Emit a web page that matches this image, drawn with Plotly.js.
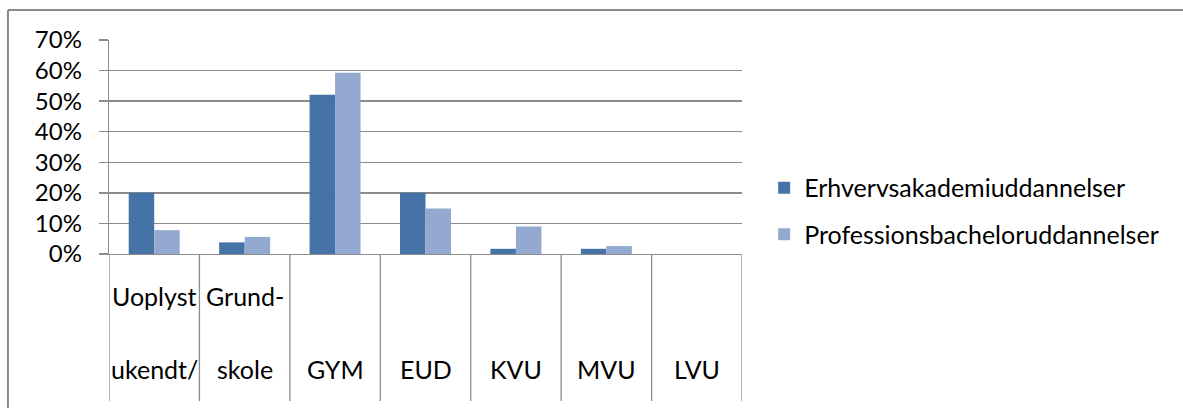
<!DOCTYPE html>
<html>
<head>
<meta charset="utf-8">
<script src="https://cdn.plot.ly/plotly-3.0.1.min.js"></script>
<style>
  html, body { margin: 0; padding: 0; background: #fff; }
  #chart { width: 1183px; height: 408px; }
</style>
</head>
<body>
<div id="chart"></div>
<script>
// Data
const categories = ["Uoplyst/ukendt", "Grundskole", "GYM", "EUD", "KVU", "MVU", "LVU"];
const labelLine1 = ["Uoplyst", "Grund-", "", "", "", "", ""];
const labelLine2 = ["ukendt/", "skole", "GYM", "EUD", "KVU", "MVU", "LVU"];
const seriesNames = ["Erhvervsakademiuddannelser", "Professionsbacheloruddannelser"];
const erhvervsakademi = [0.20, 0.038, 0.521, 0.20, 0.017, 0.017, 0];
const professionsbachelor = [0.078, 0.056, 0.593, 0.149, 0.09, 0.026, 0];
const yTicks = [0, 0.1, 0.2, 0.3, 0.4, 0.5, 0.6, 0.7];

const FONT = "Lato, 'Open Sans', sans-serif";
const FS = 25;
const GRID = "#8c8c8c";
const colors = ["#4572A7", "#93A9CF"];

const traces = [erhvervsakademi, professionsbachelor].map((vals, i) => ({
  type: "bar",
  name: seriesNames[i],
  x: categories,
  y: vals,
  marker: { color: colors[i], line: { width: 0 } },
  legendgroup: "g" + i,
  hoverinfo: "x+y+name"
}));

// Category separator lines below the axis (cell borders)
const shapes = [];
for (let k = 0; k <= categories.length; k++) {
  shapes.push({
    type: "line", xref: "x", yref: "paper",
    x0: k - 0.5, x1: k - 0.5, y0: 0, y1: -0.687,
    line: { color: GRID, width: 1.3 }
  });
}
// Chart area border (left and top visible)
shapes.push({ type: "line", xref: "paper", yref: "paper",
  x0: -0.1596, x1: -0.1596, y0: -0.75, y1: 1.140, line: { color: "#8a8a8a", width: 2 } });
shapes.push({ type: "line", xref: "paper", yref: "paper",
  x0: -0.1596, x1: 1.75, y0: 1.140, y1: 1.140, line: { color: "#8a8a8a", width: 2 } });

const annotations = [];
categories.forEach((c, i) => {
  if (labelLine1[i]) {
    annotations.push({ x: c, xref: "x", yref: "paper", y: -0.196, yanchor: "middle",
      text: labelLine1[i], showarrow: false, font: { family: FONT, size: FS, color: "#000" } });
  }
  annotations.push({ x: c, xref: "x", yref: "paper", y: -0.537, yanchor: "middle",
    text: labelLine2[i], showarrow: false, font: { family: FONT, size: FS, color: "#000" } });
});

const layout = {
  width: 1183, height: 408,
  margin: { l: 109, r: 441, t: 40, b: 154, pad: 0 },
  paper_bgcolor: "#ffffff", plot_bgcolor: "#ffffff",
  font: { family: FONT, size: FS, color: "#000" },
  barmode: "group",
  bargap: 0.436,
  bargroupgap: 0,
  showlegend: true,
  legend: {
    x: 1.035, xanchor: "left", y: 0.201, yanchor: "middle",
    font: { family: FONT, size: FS, color: "#000" },
    traceorder: "grouped", tracegroupgap: 11,
    bgcolor: "rgba(0,0,0,0)", borderwidth: 0
  },
  xaxis: {
    type: "category",
    categoryarray: categories,
    showticklabels: false,
    showgrid: false,
    zeroline: false,
    showline: true, linecolor: GRID, linewidth: 1.3,
    ticks: "", range: [-0.5, categories.length - 0.5],
    fixedrange: true
  },
  yaxis: {
    range: [0, 0.7],
    tickvals: yTicks,
    tickformat: ".0%",
    ticks: "outside", ticklen: 9, tickcolor: GRID, tickwidth: 1.3,
    ticklabelstandoff: 12,
    showgrid: true, gridcolor: GRID, gridwidth: 1.3,
    zeroline: false,
    showline: true, linecolor: GRID, linewidth: 1.3,
    tickfont: { family: FONT, size: 24, color: "#000" },
    fixedrange: true
  },
  shapes: shapes,
  annotations: annotations
};

Plotly.newPlot("chart", traces, layout, { displayModeBar: false, staticPlot: true });
</script>
</body>
</html>
